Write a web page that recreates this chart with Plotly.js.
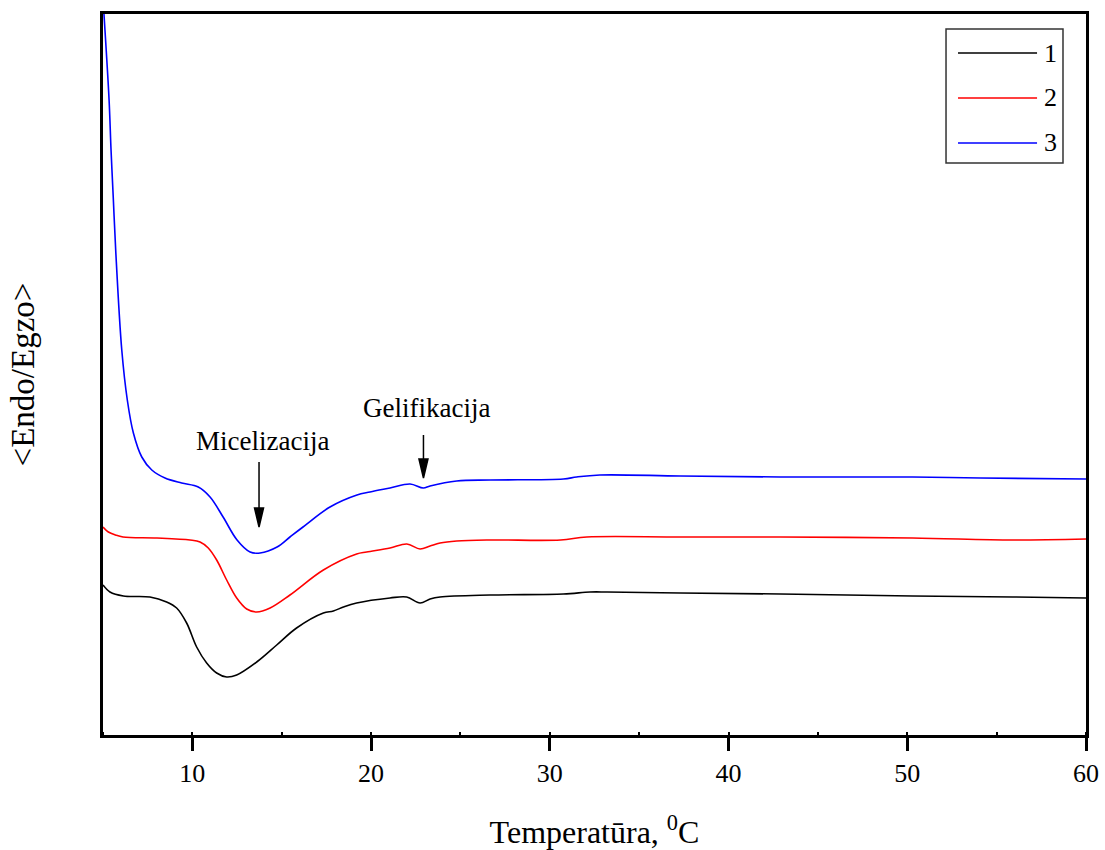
<!DOCTYPE html>
<html>
<head>
<meta charset="utf-8">
<script src="https://cdn.plot.ly/plotly-3.0.1.min.js"></script>
<style>
  html, body { margin: 0; padding: 0; background: #ffffff; }
  #chart { width: 1105px; height: 850px; }
</style>
</head>
<body>
<div id="chart"></div>
<script>
// DSC thermograms, heat flow in arbitrary units (endo up), temperature in °C
const temp1 = [5.0, 5.39, 6.14, 7.63, 8.56, 9.12, 9.68, 10.24, 10.80, 11.36, 11.92, 12.48, 13.60, 14.72, 15.83, 17.33, 17.89, 18.45, 19.19, 21.06, 21.99, 22.74, 23.30, 23.86, 26.66, 30.76, 32.25, 33.2, 37.3, 42.9, 50.3, 55.9, 60.0];
const flow1 = [150, 143, 139, 138, 133, 127, 112, 88, 72, 62, 58, 60, 73, 90, 107, 122, 124, 128, 132, 137, 138, 132, 136, 138, 140, 141, 143, 143, 142, 141, 139, 138, 137];

const temp2 = [5.0, 5.3, 5.7, 6.12, 8.02, 9.87, 10.43, 10.89, 11.36, 11.92, 12.48, 13.04, 13.60, 14.35, 15.46, 17.33, 19.19, 19.75, 21.06, 22.0, 22.74, 23.30, 23.86, 24.79, 26.66, 30.6, 32.07, 37.3, 42.9, 50.3, 55.9, 60.0];
const flow2 = [208, 203, 200, 198, 197, 195, 193, 187, 175, 155, 137, 126, 123, 127, 140, 165, 181, 183, 187, 191, 186, 189, 192, 194, 195, 195, 198, 198, 198, 197, 195, 196];

const temp3 = [5.05, 5.34, 5.45, 5.58, 5.71, 6.05, 6.36, 6.70, 7.17, 7.73, 8.47, 9.40, 10.33, 10.99, 11.72, 12.50, 13.23, 13.79, 14.74, 15.46, 16.19, 17.70, 19.21, 19.94, 21.06, 22.18, 22.92, 23.30, 24.79, 26.66, 30.76, 31.5, 32.8, 37.3, 42.9, 50.3, 54.1, 60.0];
const flow3 = [722, 635, 585, 535, 485, 385, 335, 302, 278, 265, 257, 252, 248, 238, 218, 195, 183, 182, 188, 198, 208, 228, 240, 243, 247, 251, 247, 249, 254, 255, 256, 258, 260, 259, 258, 258, 257, 256];

const seriesNames = ['1', '2', '3'];
const seriesColors = ['#000000', '#ff0000', '#0000ff'];
const xTicks = [10, 20, 30, 40, 50, 60];

// transition markers: [label, arrow temperature, arrow tip level, label level, label temperature]
const markers = [
  ['Micelizacija', 13.73, 208, 294, 13.95],
  ['Gelifikacija', 22.93, 257, 327, 23.08]
];

const FONT = '"Liberation Serif", "Times New Roman", serif';

const temps = [temp1, temp2, temp3];
const flows = [flow1, flow2, flow3];

const traces = temps.map((t, i) => ({
  type: 'scatter',
  mode: 'lines',
  name: seriesNames[i],
  x: t,
  y: flows[i],
  line: { color: seriesColors[i], width: 1.6, shape: 'spline', smoothing: 1.0 },
  showlegend: false,
  hoverinfo: 'x+name'
}));

// legend box drawn in paper space
const legX0 = 0.8576, legX1 = 0.9766, legY0 = 0.7933, legY1 = 0.9792;
const legLineX0 = 0.8698, legLineX1 = 0.9502;
const legRows = [0.9459, 0.8835, 0.8211];

const shapes = [
  { type: 'rect', xref: 'paper', yref: 'paper', x0: legX0, x1: legX1, y0: legY0, y1: legY1,
    line: { color: '#333333', width: 1.5 }, fillcolor: 'rgba(0,0,0,0)' }
];
legRows.forEach((yy, i) => {
  shapes.push({ type: 'line', xref: 'paper', yref: 'paper', x0: legLineX0, x1: legLineX1, y0: yy, y1: yy,
    line: { color: seriesColors[i], width: 1.6 } });
});

const annotations = legRows.map((yy, i) => ({
  xref: 'paper', yref: 'paper', x: 0.9555, y: yy, xanchor: 'left', yanchor: 'middle',
  text: seriesNames[i], showarrow: false, font: { family: FONT, size: 26, color: '#000000' }
}));

// arrows with a narrow filled head, sized in pixels from the tip
const shaftLen = [65, 43];
markers.forEach((m, i) => {
  shapes.push({
    type: 'path', xref: 'x', yref: 'y', xsizemode: 'pixel', ysizemode: 'pixel',
    xanchor: m[1], yanchor: m[2],
    path: 'M0,' + shaftLen[i] + ' L0,15 M0,0 L-4.5,19 L4.5,19 Z',
    line: { color: '#000000', width: 1.5 }, fillcolor: '#000000'
  });
  annotations.push({
    x: m[4], y: m[3], xref: 'x', yref: 'y', text: m[0], showarrow: false,
    xanchor: 'center', yanchor: 'middle',
    font: { family: FONT, size: 27, color: '#000000' }
  });
});

const layout = {
  width: 1105,
  height: 850,
  margin: { l: 103, r: 19, t: 14, b: 115 },
  paper_bgcolor: '#ffffff',
  plot_bgcolor: '#ffffff',
  font: { family: FONT, color: '#000000' },
  showlegend: false,
  xaxis: {
    range: [5, 60],
    tickvals: xTicks,
    ticktext: xTicks.map(String),
    ticks: 'outside',
    ticklen: 13,
    tickwidth: 3,
    tickcolor: '#000000',
    tickfont: { family: FONT, size: 26, color: '#000000' },
    minor: { dtick: 5, tick0: 0, ticks: 'inside', ticklen: 3, tickwidth: 1.5, tickcolor: '#000000' },
    showline: true,
    linecolor: '#000000',
    linewidth: 3,
    mirror: true,
    showgrid: false,
    zeroline: false,
    title: { text: 'Temperatūra, <sup>0</sup>C', font: { family: FONT, size: 32, color: '#000000' }, standoff: 34 }
  },
  yaxis: {
    range: [0, 721],
    showticklabels: false,
    ticks: '',
    showline: true,
    linecolor: '#000000',
    linewidth: 3,
    mirror: true,
    showgrid: false,
    zeroline: false,
    title: { text: '&lt;Endo/Egzo&gt;', font: { family: FONT, size: 33, color: '#000000' }, standoff: 56 }
  },
  shapes: shapes,
  annotations: annotations
};

Plotly.newPlot('chart', traces, layout, { displayModeBar: false });
</script>
</body>
</html>
